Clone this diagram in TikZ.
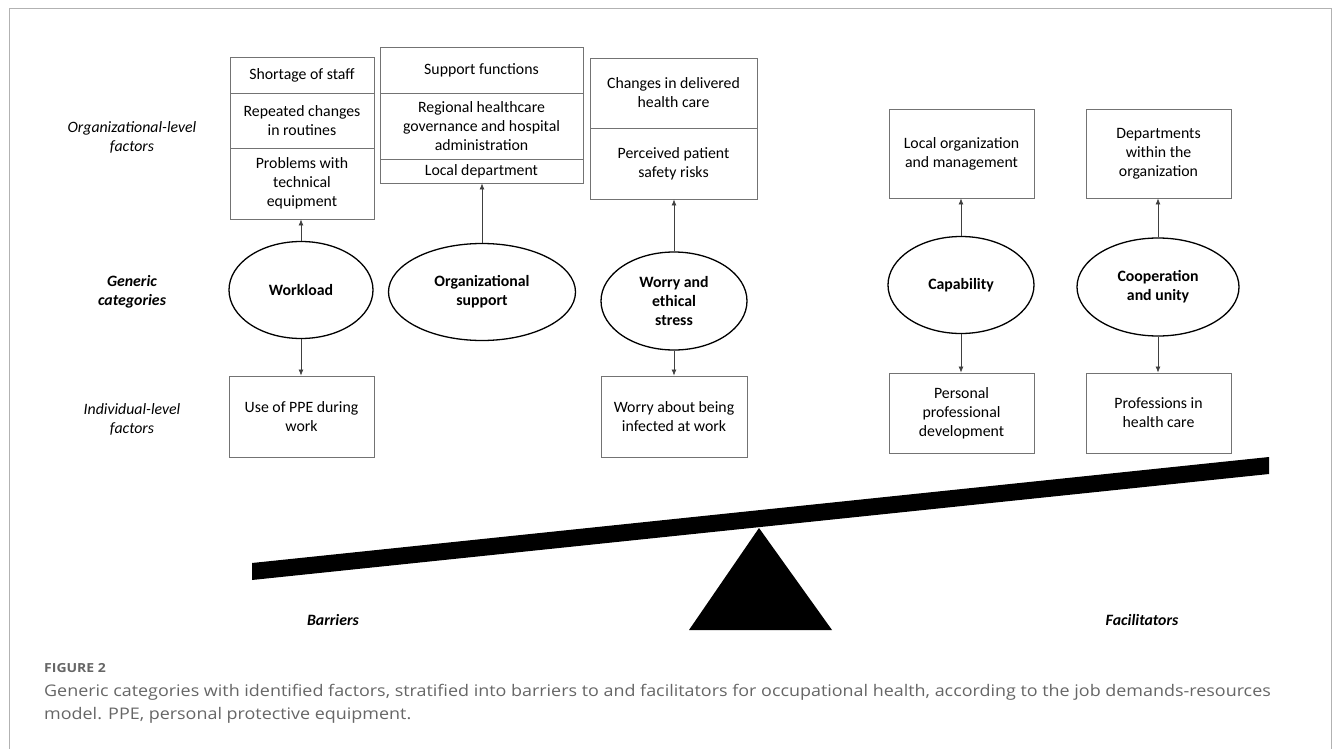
\documentclass[tikz,border=0pt]{standalone}
\usepackage{fontspec}
\setmainfont{Carlito}
\newfontfamily\capfont[FakeStretch=1.12]{Open Sans}
\usetikzlibrary{shapes.geometric,arrows.meta}
\begin{document}
\begin{tikzpicture}[x=1pt,y=-1pt,
  cell/.style={draw=black!55, line width=0.9pt, inner sep=0pt, align=center, font=\fontsize{15.8}{19}\selectfont},
  cat/.style={draw=black, ellipse, line width=1.3pt, inner sep=0pt, align=center, font=\fontsize{15.8}{19}\selectfont\bfseries},
  conn/.style={-{Latex[length=6pt,width=5pt]}, line width=0.7pt, draw=black!75},
  rowlab/.style={align=center, font=\fontsize{15.8}{19}\selectfont\itshape},
  sidelab/.style={font=\fontsize{15.8}{17}\selectfont\bfseries\itshape},
  captxt/.style={anchor=west, inner sep=0pt, text=black!60, font=\capfont\fontsize{16}{20}\selectfont},
]
\useasboundingbox (0,0) rectangle (1333,749);
\draw[black!30, line width=1pt] (9,749) -- (9,9) -- (1331,9) -- (1331,749);

% row labels
\node[rowlab] (rl1) at (132,137) {Organizational-level\\factors};
\node[rowlab, font=\fontsize{15.8}{19}\selectfont\bfseries\itshape] (rl2) at (132,292) {Generic\\categories};
\node[rowlab] (rl3) at (132,419) {Individual-level\\factors};

% column 1: Workload
\node[cell, minimum width=144, minimum height=36] (c1a) at (302,75) {Shortage of staff};
\node[cell, minimum width=144, minimum height=55] (c1b) at (302,120.5) {Repeated changes\\in routines};
\node[cell, minimum width=144, minimum height=71] (c1c) at (302,183.5) {Problems with\\technical\\equipment};
\node[cat, minimum width=144, minimum height=97] (e1) at (301,290) {Workload};
\node[cell, minimum width=145, minimum height=81] (b1) at (301.5,416.5) {Use of PPE during\\work};

% column 2: Organizational support
\node[cell, minimum width=203, minimum height=46] (c2a) at (481.5,70) {Support functions};
\node[cell, minimum width=203, minimum height=66] (c2b) at (481.5,126) {Regional healthcare\\governance and hospital\\administration};
\node[cell, minimum width=203, minimum height=24] (c2c) at (481.5,171) {Local department};
\node[cat, minimum width=187, minimum height=97] (e2) at (482,292) {Organizational\\support};

% column 3: Worry and ethical stress
\node[cell, minimum width=167, minimum height=70] (c3a) at (673.5,93) {Changes in delivered\\health care};
\node[cell, minimum width=167, minimum height=71] (c3b) at (673.5,163.5) {Perceived patient\\safety risks};
\node[cat, minimum width=146, minimum height=98] (e3) at (674,301) {Worry and\\ethical\\stress};
\node[cell, minimum width=146, minimum height=81] (b3) at (674,416.5) {Worry about being\\infected at work};

% column 4: Capability
\node[cell, minimum width=145, minimum height=89] (c4) at (961.5,153.5) {Local organization\\and management};
\node[cat, minimum width=146, minimum height=97] (e4) at (961,285) {Capability};
\node[cell, minimum width=145, minimum height=80] (b4) at (961.5,413) {Personal\\professional\\development};

% column 5: Cooperation and unity
\node[cell, minimum width=145, minimum height=89] (c5) at (1158.5,153.5) {Departments\\within the\\organization};
\node[cat, minimum width=162, minimum height=98] (e5) at (1158,287) {Cooperation\\and unity};
\node[cell, minimum width=145, minimum height=80] (b5) at (1158.5,413) {Professions in\\health care};

% connectors
\draw[conn] (e1.north) -- (e1.north |- c1c.south);
\draw[conn] (e1.south) -- (e1.south |- b1.north);
\draw[conn] (e2.north) -- (e2.north |- c2c.south);
\draw[conn] (e3.north) -- (e3.north |- c3b.south);
\draw[conn] (e3.south) -- (e3.south |- b3.north);
\draw[conn] (e4.north) -- (e4.north |- c4.south);
\draw[conn] (e4.south) -- (e4.south |- b4.north);
\draw[conn] (e5.north) -- (e5.north |- c5.south);
\draw[conn] (e5.south) -- (e5.south |- b5.north);

% seesaw
\fill[black] (252,563) -- (1269,457) -- (1269,474) -- (252,580) -- cycle;
\fill[black] (759,528) -- (832,630) -- (689,630) -- cycle;
\node[sidelab] (bar) at (333,620) {Barriers};
\node[sidelab] (fac) at (1142,620) {Facilitators};

% caption
\node[captxt, font=\capfont\bfseries\fontsize{12.5}{15}\selectfont] (fig) at (44,668) {FIGURE 2};
\node[captxt] (cap1) at (44,692) {Generic categories with identified factors, stratified into barriers to and facilitators for occupational health, according to the job demands-resources};
\node[captxt] (cap2) at (44,715) {model. PPE, personal protective equipment.};
\end{tikzpicture}
\end{document}
